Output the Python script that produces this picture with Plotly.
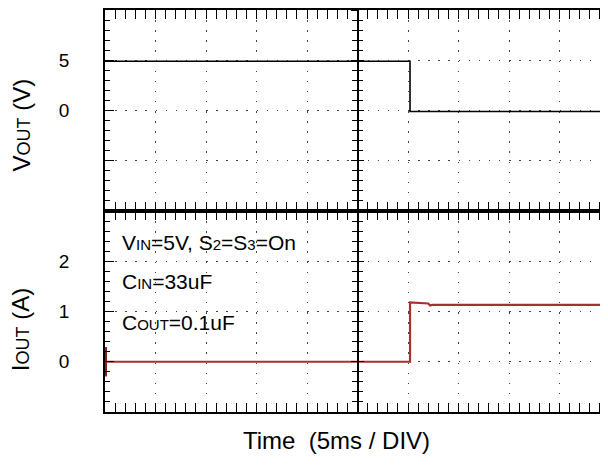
import plotly.graph_objects as go

# ---- data ----
t_vout = [0, 30.2, 30.2, 50]          # ms
vout = [4.9, 4.9, -0.1, -0.1]          # V
t_iout = [0, 30.2, 30.2, 31.8, 32.0, 32.2, 32.4, 50]   # ms
iout = [0.0, 0.0, 1.18, 1.16, 1.16, 1.12, 1.13, 1.13]  # A
gnd_t = [0]
gnd_i = [0]
v_ticks = [-10, -5, 0, 5, 10]
v_ticktext = ["", "", "0", "5", ""]
i_ticks = [-1, 0, 1, 2, 3]
i_ticktext = ["", "0", "1", "2", ""]

FONT = "Liberation Sans, Arial, sans-serif"
RED = "#a8302e"
SMALL = lambda s, sz: f'<span style="font-size:{sz}px">{s}</span>'

fig = go.Figure()
fig.add_trace(go.Scatter(x=t_vout, y=vout, mode="lines", xaxis="x2", yaxis="y",
                         line=dict(color="black", width=1.6), showlegend=False, hoverinfo="skip"))
fig.add_trace(go.Scatter(x=t_iout, y=iout, mode="lines", xaxis="x", yaxis="y2",
                         line=dict(color=RED, width=2.2), showlegend=False, hoverinfo="skip"))
fig.add_trace(go.Scatter(x=gnd_t, y=gnd_i, mode="markers", xaxis="x", yaxis="y2", cliponaxis=False,
                         marker=dict(symbol="line-ns", size=21, line=dict(color="#8b1a1a", width=4)),
                         showlegend=False, hoverinfo="skip"))
# empty traces to anchor the centre-line axes
for xa, ya in [("x2", "y3"), ("x2", "y4"), ("x", "y5"), ("x", "y6")]:
    fig.add_trace(go.Scatter(x=[], y=[], xaxis=xa, yaxis=ya, showlegend=False, hoverinfo="skip"))

grid = dict(showgrid=True, gridcolor="#444444", gridwidth=1.1, griddash="1.5px,8.6px", zeroline=False)
line = dict(showline=True, linecolor="black", linewidth=1.5)
xcommon = dict(range=[0, 50], tickvals=[0, 5, 10, 15, 20, 25, 30, 35, 40, 45, 50], ticks="inside",
               ticklen=9, tickwidth=1.3, tickcolor="black", mirror="allticks", showticklabels=False,
               automargin=False,
               minor=dict(dtick=1, ticks="inside", ticklen=5, tickwidth=1.1, tickcolor="black", showgrid=False),
               **grid, **line)
fig.update_layout(
    xaxis=dict(domain=[0, 1], anchor="y2", **xcommon),
    xaxis2=dict(domain=[0, 1], anchor="y", matches="x", **xcommon),
    yaxis=dict(domain=[0.5, 1], anchor="x2", range=[-10, 10], tickvals=v_ticks, ticktext=v_ticktext,
               ticks="inside", ticklen=9, tickwidth=1.3, tickcolor="black", mirror="allticks",
               ticklabelstandoff=30, automargin=False,
               minor=dict(dtick=1, ticks="inside", ticklen=5, tickwidth=1.1, tickcolor="black", showgrid=False),
               tickfont=dict(size=19, color="black", family=FONT), **grid, **line),
    yaxis2=dict(domain=[0, 0.5], anchor="x", range=[-1, 3], tickvals=i_ticks, ticktext=i_ticktext,
                ticks="inside", ticklen=9, tickwidth=1.3, tickcolor="black", mirror="allticks",
                ticklabelstandoff=30, automargin=False,
                minor=dict(dtick=0.2, ticks="inside", ticklen=5, tickwidth=1.1, tickcolor="black", showgrid=False),
                tickfont=dict(size=19, color="black", family=FONT), **grid, **line),
)
centre = dict(anchor="free", position=0.5, showline=True, linecolor="black", linewidth=1.5,
              showgrid=False, zeroline=False, showticklabels=False, tickcolor="black", tickwidth=1.3,
              ticklen=6, automargin=False)
for name, ov, rng, tv, mdt, side in [("yaxis3", "y", [-10, 10], v_ticks, 1, "inside"),
                                     ("yaxis4", "y", [-10, 10], v_ticks, 1, "outside"),
                                     ("yaxis5", "y2", [-1, 3], i_ticks, 0.2, "inside"),
                                     ("yaxis6", "y2", [-1, 3], i_ticks, 0.2, "outside")]:
    fig.update_layout(**{name: dict(overlaying=ov, range=rng, tickvals=tv, ticks=side,
                                    minor=dict(dtick=mdt, ticks=side, ticklen=5, tickwidth=1.1,
                                               tickcolor="black", showgrid=False),
                                    **centre)})

SUB = 15
anns = [
    dict(text="V" + SMALL("IN", SUB) + "=5V, S" + SMALL("2", SUB) + "=S" + SMALL("3", SUB) + "=On",
         x=1.5, y=2.37, xref="x", yref="y2"),
    dict(text="C" + SMALL("IN", SUB) + "=33uF", x=1.5, y=1.59, xref="x", yref="y2"),
    dict(text="C" + SMALL("OUT", SUB) + "=0.1uF", x=1.5, y=0.78, xref="x", yref="y2"),
]
for a in anns:
    fig.add_annotation(showarrow=False, xanchor="left", yanchor="middle",
                       font=dict(size=21, color="black", family=FONT), **a)
fig.add_annotation(text="V" + SMALL("OUT", 18) + " (V)", x=-0.166, y=0.713, xref="paper", yref="paper",
                   xanchor="center", yanchor="middle",
                   textangle=-90, showarrow=False, font=dict(size=24, color="black", family=FONT))
fig.add_annotation(text="I" + SMALL("OUT", 18) + " (A)", x=-0.166, y=0.204, xref="paper", yref="paper",
                   xanchor="center", yanchor="middle",
                   textangle=-90, showarrow=False, font=dict(size=24, color="black", family=FONT))
fig.add_annotation(text="Time&nbsp;&nbsp;(5ms / DIV)", x=0.458, y=-0.109, xref="paper", yref="paper",
                   showarrow=False, font=dict(size=24, color="black", family=FONT))

fig.update_layout(width=608, height=471, margin=dict(l=97, r=6, t=1.5, b=67),
                  paper_bgcolor="white", plot_bgcolor="white", showlegend=False)
fig.write_html("out.html")
